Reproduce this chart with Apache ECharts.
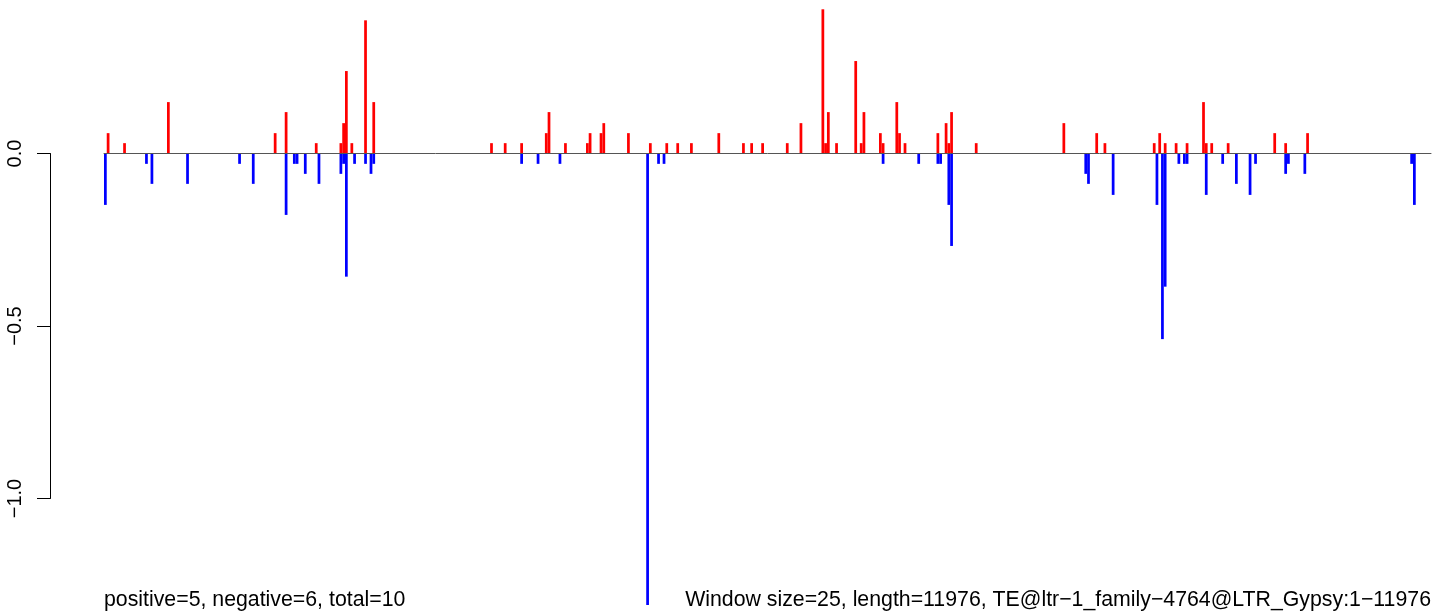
<!DOCTYPE html>
<html>
<head>
<meta charset="utf-8">
<script src="https://cdn.jsdelivr.net/npm/echarts@6/dist/echarts.min.js"></script>
<style>html,body{margin:0;padding:0;background:#fff}#c{width:1433px;height:613px}</style>
</head>
<body>
<div id="c"></div>
<script>
// window indices (window size 25) and values
const posIdx = [1,7,23,62,66,77,86,87,88,90,95,98,141,146,152,161,162,168,176,177,181,182,191,199,205,209,214,224,233,236,240,249,254,262,263,264,267,274,276,277,283,284,289,290,292,304,307,308,309,318,350,362,365,383,385,387,391,395,401,402,404,410,427,431,439];
const posVal = [0.059,0.03,0.149,0.059,0.12,0.03,0.03,0.088,0.239,0.03,0.386,0.149,0.03,0.03,0.03,0.059,0.12,0.03,0.03,0.059,0.059,0.088,0.059,0.03,0.03,0.03,0.03,0.059,0.03,0.03,0.03,0.03,0.088,0.418,0.03,0.12,0.03,0.268,0.03,0.12,0.059,0.03,0.149,0.059,0.03,0.059,0.088,0.03,0.12,0.03,0.088,0.059,0.03,0.03,0.059,0.03,0.03,0.03,0.149,0.03,0.03,0.03,0.059,0.03,0.059];
const negIdx = [0,15,17,30,49,54,66,69,70,73,78,86,87,88,91,95,97,98,152,158,166,198,202,204,284,297,304,305,308,309,358,359,368,384,386,387,392,394,395,402,408,413,418,420,431,432,438,477,478];
const negVal = [-0.149,-0.03,-0.088,-0.088,-0.03,-0.088,-0.178,-0.03,-0.03,-0.059,-0.088,-0.059,-0.03,-0.357,-0.03,-0.03,-0.059,-0.03,-0.03,-0.03,-0.03,-1.309,-0.03,-0.03,-0.03,-0.03,-0.03,-0.03,-0.149,-0.268,-0.059,-0.088,-0.12,-0.149,-0.538,-0.386,-0.03,-0.03,-0.03,-0.12,-0.03,-0.088,-0.12,-0.03,-0.059,-0.03,-0.059,-0.03,-0.149];
const yTicks = [0, -0.5, -1.0];
const leftNote = 'positive=5, negative=6, total=10';
const rightNote = 'Window size=25, length=11976, TE@ltr\u22121_family\u22124764@LTR_Gypsy:1\u221211976';

const FONT = '"Liberation Sans", Arial, Helvetica, sans-serif';
const chart = echarts.init(document.getElementById('c'), null, {renderer: 'canvas'});
const pos = posIdx.map((x, i) => [x, posVal[i]]);
const neg = negIdx.map((x, i) => [x, negVal[i]]);
const W = 1433, H = 613;
const zeroY = 153.5, unitPx = 345;
const plotLeft = 104, plotRight = 1431;
const winPx = 2.7385;
chart.setOption({
  animation: false,
  backgroundColor: '#fff',
  grid: [
    {left: plotLeft, right: W - plotRight, top: 0, bottom: 0, containLabel: false},
    {left: 50, width: 1, top: zeroY, height: unitPx, containLabel: false}
  ],
  xAxis: [
    {type: 'value', gridIndex: 0, min: -0.5, max: -0.5 + (plotRight - plotLeft) / winPx,
     z: 5,
     axisLine: {show: true, onZero: true, lineStyle: {color: '#555', width: 1}},
     axisTick: {show: false}, axisLabel: {show: false}, splitLine: {show: false}},
    {type: 'value', gridIndex: 1, show: false, min: 0, max: 1}
  ],
  yAxis: [
    {type: 'value', gridIndex: 0, min: -(H - zeroY) / unitPx, max: zeroY / unitPx, show: false, splitLine: {show: false}},
    {type: 'value', gridIndex: 1, min: -1, max: 0, interval: 0.5, position: 'left',
     axisLine: {show: true, lineStyle: {color: '#000', width: 1}},
     axisTick: {show: true, length: 13, inside: false, lineStyle: {color: '#000', width: 1}},
     splitLine: {show: false},
     axisLabel: {show: true, rotate: 90, margin: 24.5, color: '#000', fontSize: 20, fontFamily: FONT,
       customValues: yTicks,
       formatter: v => (v < 0 ? '\u2212' : '') + Math.abs(v).toFixed(1)}}
  ],
  series: [
    {type: 'bar', name: 'pos', xAxisIndex: 0, yAxisIndex: 0, data: pos, barWidth: winPx, barGap: '-100%',
     itemStyle: {color: '#FF0000'}, emphasis: {disabled: true}},
    {type: 'bar', name: 'neg', xAxisIndex: 0, yAxisIndex: 0, data: neg, barWidth: winPx, barGap: '-100%',
     itemStyle: {color: '#0000FF'}, emphasis: {disabled: true}}
  ],
  graphic: [
    {type: 'text', x: plotLeft, y: 600.3, style: {text: leftNote, font: '21.3px ' + FONT, fill: '#000', textAlign: 'left', textVerticalAlign: 'middle'}},
    {type: 'text', x: plotRight, y: 600.3, style: {text: rightNote, font: '21.3px ' + FONT, fill: '#000', textAlign: 'right', textVerticalAlign: 'middle'}}
  ]
});
</script>
</body>
</html>
